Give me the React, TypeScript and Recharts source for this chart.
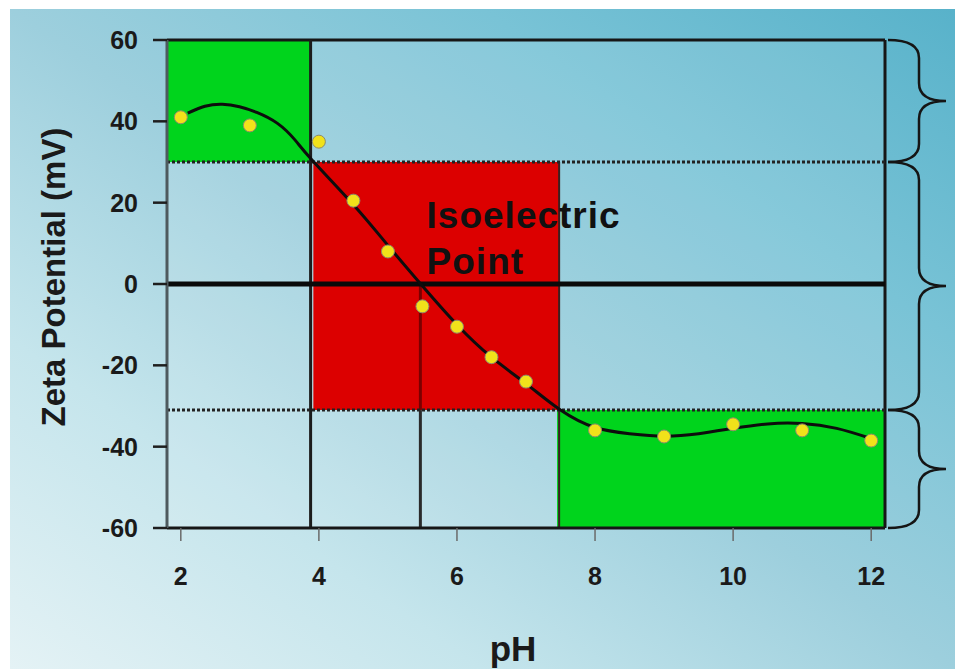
import {
  ComposedChart,
  Line,
  Scatter,
  XAxis,
  YAxis,
  ReferenceArea,
  ReferenceLine,
  ReferenceDot,
} from 'recharts';

const FONT = '"Liberation Sans", Arial, Helvetica, sans-serif';

// axis ticks
const phTicks = [2, 4, 6, 8, 10, 12];
const zetaTicks = [-60, -40, -20, 0, 20, 40, 60];

// measured points (yellow dots)
const measuredPh = [2, 3, 4, 4.5, 5, 5.5, 6, 6.5, 7, 8, 9, 10, 11, 12];
const measuredZeta = [41, 39, 35, 20.5, 8, -5.5, -10.5, -18, -24, -36, -37.5, -34.5, -36, -38.5];

// fitted curve
const fitPh = [2.1, 2.35, 2.6, 2.85, 3.1, 3.4, 3.65, 3.9, 4.5, 5.0, 5.5, 6.0, 6.5, 7.0, 7.5, 8.0, 8.5, 9.0, 9.5, 10.0, 10.5, 11.0, 11.5, 12.0];
const fitZeta = [42, 43.7, 44.2, 43.6, 42.2, 39.5, 35.5, 30.5, 19.5, 9.5, -0.5, -10, -18, -24.5, -31, -35.3, -36.8, -37.4, -36.8, -35.5, -34.4, -34.3, -35.5, -38];

// stability zones
const zoneLimits = [60, 30, -31, -60];
const acidEdgePh = 3.88;
const iepPh = 5.47;
const baseEdgePh = 7.48;
const phDomain = [1.8, 12.2];

const measured = measuredPh.map((ph, i) => ({ ph, zeta: measuredZeta[i] }));
const fit = fitPh.map((ph, i) => ({ ph, zeta: fitZeta[i] }));

function Brace(props: any) {
  const { x, y, width, height } = props;
  const x0 = x + width + 3;
  const xv = x0 + 31;
  const xt = x0 + 58;
  const r = Math.min(18, height / 4);
  const ym = y + height / 2;
  const yb = y + height;
  const d =
    `M${x0},${y} Q${xv},${y} ${xv},${y + r} L${xv},${ym - r} ` +
    `Q${xv},${ym} ${xt},${ym} Q${xv},${ym} ${xv},${ym + r} ` +
    `L${xv},${yb - r} Q${xv},${yb} ${x0},${yb}`;
  return <path d={d} fill="none" stroke="#151515" strokeWidth={2.5} />;
}

function IepText(props: any) {
  const { cx, cy } = props;
  return (
    <text x={cx} y={cy} fontFamily={FONT} fontSize={37} fontWeight="bold" letterSpacing={1} fill="#111">
      <tspan x={cx} y={cy}>Isoelectric</tspan>
      <tspan x={cx} y={cy + 46}>Point</tspan>
    </text>
  );
}

function Dot(props: any) {
  const { cx, cy } = props;
  return <circle cx={cx} cy={cy} r={6.5} fill="#f1e21a" stroke="#8d8a6c" strokeWidth={1} />;
}

const yLabel = (p: any) => {
  const vb = p.viewBox;
  const x = vb.x + 65;
  const y = vb.y + vb.height / 2 - 7;
  return (
    <text x={x} y={y} transform={`rotate(-90, ${x}, ${y})`} textAnchor="middle"
      fontFamily={FONT} fontSize={33} fontWeight="bold" fill="#1a1a1a">
      Zeta Potential (mV)
    </text>
  );
};

const xLabel = (p: any) => {
  const vb = p.viewBox;
  return (
    <text x={vb.x + vb.width / 2 - 13} y={vb.y + 133} textAnchor="middle"
      fontFamily={FONT} fontSize={35} fontWeight="bold" fill="#1a1a1a">
      pH
    </text>
  );
};

export default function App() {
  const tickStyle = { fontSize: 25, fontWeight: 'bold', fill: '#1a1a1a', fontFamily: FONT };
  return (
    <div style={{ position: 'absolute', left: 0, top: 0, width: 955, height: 669, background: '#fff', overflow: 'hidden' }}>
      <div
        style={{
          position: 'absolute', left: 10, top: 9, right: 0, bottom: 0,
          background: 'linear-gradient(to top right, #e4f2f5 0%, #c5e5ec 25%, #9dcfdd 50%, #79c3d6 75%, #58b2ca 100%)',
        }}
      />
      <div style={{ position: 'absolute', left: 0, top: 0 }}>
        <ComposedChart width={955} height={669} margin={{ top: 40, right: 70, left: 0, bottom: 0 }}>
          <XAxis
            type="number"
            dataKey="ph"
            domain={phDomain}
            ticks={phTicks}
            allowDataOverflow
            height={141}
            tick={tickStyle}
            tickSize={13}
            tickMargin={26}
            tickLine={{ stroke: '#6a6a6a', strokeWidth: 1.5 }}
            axisLine={{ stroke: '#161616', strokeWidth: 3 }}
            label={xLabel}
          />
          <YAxis
            type="number"
            dataKey="zeta"
            domain={[-60, 60]}
            ticks={zetaTicks}
            allowDataOverflow
            width={167}
            tick={tickStyle}
            tickSize={14}
            tickMargin={15}
            tickLine={{ stroke: '#1e1e1e', strokeWidth: 2.5 }}
            axisLine={{ stroke: '#4e5a5e', strokeWidth: 3 }}
            label={yLabel}
          />

          <ReferenceArea y1={zoneLimits[3]} y2={zoneLimits[0]} fill="#ffffff" fillOpacity={0.1} stroke="none" />
          <ReferenceArea x1={phDomain[0]} x2={acidEdgePh} y1={zoneLimits[1]} y2={zoneLimits[0]} fill="#00d41c" fillOpacity={1} stroke="none" />
          <ReferenceArea x1={acidEdgePh + 0.04} x2={baseEdgePh} y1={zoneLimits[2]} y2={zoneLimits[1]} fill="#dc0000" fillOpacity={1} stroke="none" />
          <ReferenceArea x1={baseEdgePh - 0.03} x2={phDomain[1]} y1={zoneLimits[3]} y2={zoneLimits[2]} fill="#00d41c" fillOpacity={1} stroke="none" />

          <ReferenceArea y1={zoneLimits[1]} y2={zoneLimits[0]} shape={<Brace />} />
          <ReferenceArea y1={zoneLimits[2]} y2={zoneLimits[1]} shape={<Brace />} />
          <ReferenceArea y1={zoneLimits[3]} y2={zoneLimits[2]} shape={<Brace />} />

          <ReferenceLine y={zoneLimits[0]} stroke="#161616" strokeWidth={3} />
          <ReferenceLine x={phDomain[1]} stroke="#161616" strokeWidth={3} />
          <ReferenceLine x={acidEdgePh} stroke="#1c1c1c" strokeWidth={3} />
          <ReferenceLine segment={[{ x: baseEdgePh, y: zoneLimits[3] }, { x: baseEdgePh, y: zoneLimits[1] }]} stroke="#3a2020" strokeWidth={2} />
          <ReferenceLine segment={[{ x: iepPh, y: zoneLimits[3] }, { x: iepPh, y: zoneLimits[2] }]} stroke="#2a2a2a" strokeWidth={3} />
          <ReferenceLine segment={[{ x: iepPh, y: zoneLimits[2] }, { x: iepPh, y: 0 }]} stroke="#7a0000" strokeWidth={3} />
          <ReferenceLine y={zoneLimits[1]} stroke="#222" strokeWidth={3} strokeDasharray="3 2" />
          <ReferenceLine y={zoneLimits[2]} stroke="#222" strokeWidth={3} strokeDasharray="3 2" />
          <ReferenceLine y={0} stroke="#0a0a0a" strokeWidth={5} />

          <ReferenceDot x={5.56} y={13.8} r={0} shape={<IepText />} />

          <Line
            data={fit}
            dataKey="zeta"
            type="natural"
            stroke="#0d0d0d"
            strokeWidth={3}
            dot={false}
            isAnimationActive={false}
          />
          <Scatter data={measured} dataKey="zeta" shape={<Dot />} isAnimationActive={false} />
        </ComposedChart>
      </div>
    </div>
  );
}
